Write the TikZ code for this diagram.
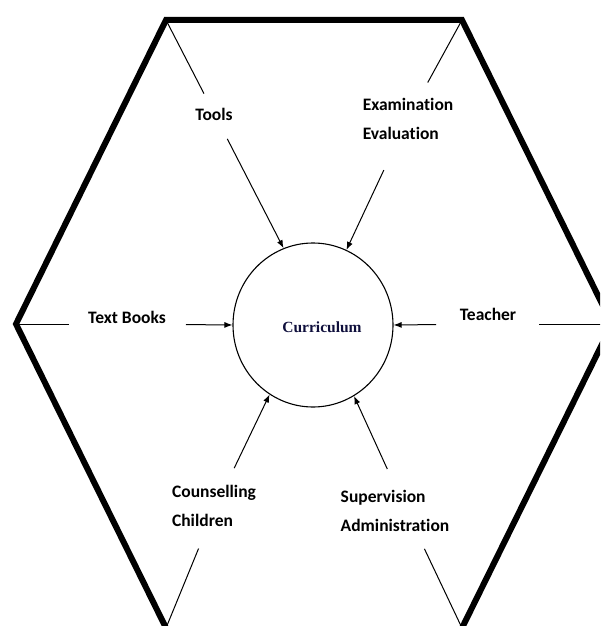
\documentclass[tikz,border=0pt]{standalone}
\usepackage{fontspec}
\usetikzlibrary{arrows.meta,shapes.geometric}
\newfontfamily\lblfont[Ligatures=NoCommon]{Carlito}
\newfontfamily\curfont{Liberation Serif}
\definecolor{curblue}{RGB}{15,15,60}
\tikzset{
  lbl/.style={inner sep=0pt, align=left, font=\lblfont\bfseries\fontsize{17.5}{29}\selectfont},
  spoke/.style={line width=1pt},
  arr/.style={line width=1pt, -{Latex[length=8pt,width=6pt]}},
  hex/.style={line width=6pt, line join=miter}
}
\begin{document}
\begin{tikzpicture}[x=1pt,y=-1pt]
\useasboundingbox (0,0) rectangle (600,626);
\clip (0,0) rectangle (600,626);

%corners of the hexagon
\coordinate (vl) at (16,324);
\coordinate (vtl) at (166,20);
\coordinate (vtr) at (462,20);
\coordinate (vr) at (612,324);
\coordinate (vbr) at (462,628);
\coordinate (vbl) at (166,628);

%draw hexagon
\draw[hex] (vbl) -- (vl) -- (vtl) -- (vtr) -- (vr) -- (vbr);

%centre
\node[draw, ellipse, line width=1.1pt, minimum width=160pt, minimum height=164pt] (circ) at (313,325) {};
\node[font=\curfont\bfseries\fontsize{15.5}{18}\selectfont, text=curblue] (cur) at (322,327) {Curriculum};

%labels
\node[lbl] (tools) at (214,114) {Tools};
\node[lbl] (exam) at (408,118.5) {Examination\\Evaluation};
\node[lbl] (books) at (127,317) {Text Books};
\node[lbl] (teacher) at (488,314) {Teacher};
\node[lbl] (couns) at (214,506) {Counselling\\Children};
\node[lbl] (super) at (395,510.5) {Supervision\\Administration};

%where the spokes cross the labels
\coordinate (htools) at (214.5,114);
\coordinate (hexam) at (408,118.5);
\coordinate (hbooks) at (books |- vl);
\coordinate (hteacher) at (teacher |- vr);
\coordinate (hcouns) at (216,506);
\coordinate (hsuper) at (406,510);

%spokes from the corners
\draw[spoke, shorten >=23pt] (vtl) -- (htools);
\draw[spoke, shorten >=41pt] (vtr) -- (hexam);
\draw[spoke, shorten >=58pt] (vl) -- (hbooks);
\draw[spoke, shorten >=51pt] (vr) -- (hteacher);
\draw[spoke, shorten >=46pt] (vbl) -- (hcouns);
\draw[spoke, shorten >=43pt] (vbr) -- (hsuper);

%arrows into the curriculum
\draw[arr, shorten <=28pt] (htools) -- (circ.111);
\draw[arr, shorten <=57pt] (hexam) -- (circ.66);
\draw[arr, shorten <=59pt] (hbooks) -- (circ.west);
\draw[arr, shorten <=52pt] (hteacher) -- (circ.east);
\draw[arr, shorten <=42pt] (hcouns) -- (circ.238);
\draw[arr, shorten <=45pt] (hsuper) -- (circ.300);
\end{tikzpicture}
\end{document}
